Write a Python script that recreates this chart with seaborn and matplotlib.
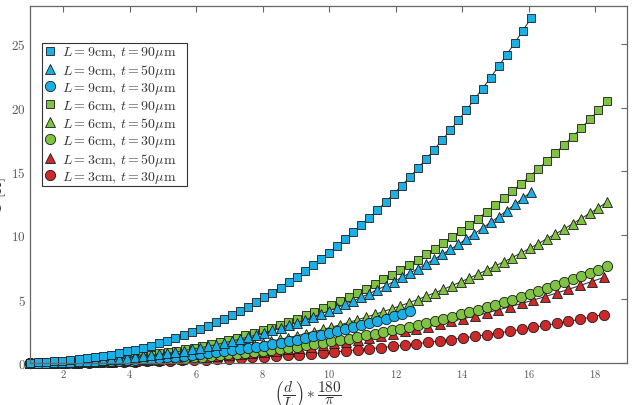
import matplotlib
matplotlib.use("Agg")
from matplotlib import pyplot as plt
from matplotlib.lines import Line2D
import seaborn as sns

# === Data ===
# x grids for each length L
x9 = [1.000, 1.243, 1.486, 1.729, 1.972, 2.215, 2.458, 2.701, 2.944, 3.187,
      3.430, 3.673, 3.916, 4.159, 4.402, 4.645, 4.888, 5.131, 5.374, 5.617,
      5.860, 6.103, 6.346, 6.589, 6.832, 7.075, 7.318, 7.561, 7.804, 8.047,
      8.290, 8.533, 8.776, 9.019, 9.262, 9.505, 9.748, 9.991, 10.234, 10.477,
      10.720, 10.963, 11.206, 11.449, 11.692, 11.935, 12.178, 12.421, 12.664, 12.907,
      13.150, 13.393, 13.636, 13.879, 14.122, 14.365, 14.608, 14.851, 15.094, 15.337,
      15.580, 15.823, 16.066]
x6 = [1.000, 1.259, 1.518, 1.777, 2.036, 2.295, 2.554, 2.813, 3.072, 3.331,
      3.590, 3.849, 4.108, 4.367, 4.626, 4.885, 5.144, 5.403, 5.662, 5.921,
      6.180, 6.439, 6.698, 6.957, 7.216, 7.475, 7.734, 7.993, 8.252, 8.511,
      8.770, 9.029, 9.288, 9.547, 9.806, 10.065, 10.324, 10.583, 10.842, 11.101,
      11.360, 11.619, 11.878, 12.137, 12.396, 12.655, 12.914, 13.173, 13.432, 13.691,
      13.950, 14.209, 14.468, 14.727, 14.986, 15.245, 15.504, 15.763, 16.022, 16.281,
      16.540, 16.799, 17.058, 17.317, 17.576, 17.835, 18.094, 18.353]
x3 = [1.000, 1.352, 1.704, 2.056, 2.408, 2.760, 3.112, 3.464, 3.816, 4.168,
      4.520, 4.872, 5.224, 5.576, 5.928, 6.280, 6.632, 6.984, 7.336, 7.688,
      8.040, 8.392, 8.744, 9.096, 9.448, 9.800, 10.152, 10.504, 10.856, 11.208,
      11.560, 11.912, 12.264, 12.616, 12.968, 13.320, 13.672, 14.024, 14.376, 14.728,
      15.080, 15.432, 15.784, 16.136, 16.488, 16.840, 17.192, 17.544, 17.896, 18.248]

# L = 9 cm
sq9 = [0.03, 0.06, 0.09, 0.13, 0.18, 0.23, 0.30, 0.37, 0.46, 0.56,
       0.66, 0.78, 0.91, 1.05, 1.21, 1.37, 1.55, 1.74, 1.95, 2.17,
       2.40, 2.65, 2.91, 3.18, 3.47, 3.77, 4.09, 4.42, 4.77, 5.14,
       5.52, 5.91, 6.33, 6.75, 7.20, 7.66, 8.14, 8.63, 9.15, 9.68,
       10.23, 10.79, 11.37, 11.97, 12.59, 13.23, 13.89, 14.56, 15.25, 15.96,
       16.70, 17.45, 18.22, 19.00, 19.81, 20.64, 21.49, 22.35, 23.24, 24.15,
       25.08, 26.03, 27.00]
tri9 = [0.01, 0.02, 0.03, 0.05, 0.07, 0.09, 0.12, 0.16, 0.19, 0.23,
        0.28, 0.33, 0.39, 0.46, 0.53, 0.60, 0.68, 0.77, 0.87, 0.97,
        1.08, 1.19, 1.31, 1.44, 1.58, 1.72, 1.88, 2.04, 2.20, 2.38,
        2.56, 2.75, 2.96, 3.16, 3.38, 3.61, 3.84, 4.09, 4.34, 4.60,
        4.87, 5.15, 5.44, 5.74, 6.05, 6.37, 6.70, 7.04, 7.39, 7.75,
        8.12, 8.50, 8.89, 9.29, 9.71, 10.13, 10.56, 11.01, 11.46, 11.93,
        12.41, 12.90, 13.40]
cir9 = [0.01, 0.01, 0.02, 0.03, 0.04, 0.05, 0.07, 0.09, 0.11, 0.14,
        0.16, 0.19, 0.23, 0.26, 0.30, 0.35, 0.39, 0.44, 0.50, 0.56,
        0.62, 0.69, 0.76, 0.83, 0.91, 0.99, 1.08, 1.17, 1.27, 1.37,
        1.47, 1.58, 1.70, 1.82, 1.95, 2.08, 2.21, 2.35, 2.50, 2.65,
        2.80, 2.96, 3.13, 3.30, 3.48, 3.67, 3.86, 4.05]

# L = 6 cm
sq6 = [0.01, 0.03, 0.04, 0.06, 0.08, 0.11, 0.15, 0.19, 0.23, 0.29,
       0.35, 0.41, 0.49, 0.57, 0.65, 0.75, 0.85, 0.96, 1.08, 1.21,
       1.35, 1.49, 1.65, 1.81, 1.99, 2.17, 2.36, 2.57, 2.78, 3.00,
       3.24, 3.48, 3.73, 4.00, 4.28, 4.57, 4.87, 5.18, 5.50, 5.83,
       6.18, 6.54, 6.91, 7.29, 7.69, 8.09, 8.51, 8.95, 9.39, 9.85,
       10.33, 10.81, 11.31, 11.82, 12.35, 12.89, 13.45, 14.01, 14.60, 15.19,
       15.81, 16.43, 17.07, 17.73, 18.40, 19.08, 19.78, 20.50]
tri6 = [0.01, 0.02, 0.02, 0.04, 0.05, 0.07, 0.09, 0.12, 0.14, 0.18,
        0.21, 0.25, 0.30, 0.35, 0.40, 0.46, 0.52, 0.59, 0.67, 0.74,
        0.83, 0.92, 1.01, 1.11, 1.22, 1.33, 1.45, 1.58, 1.71, 1.85,
        1.99, 2.14, 2.30, 2.46, 2.63, 2.81, 2.99, 3.18, 3.38, 3.59,
        3.80, 4.02, 4.25, 4.48, 4.72, 4.97, 5.23, 5.50, 5.77, 6.06,
        6.35, 6.65, 6.95, 7.27, 7.59, 7.92, 8.26, 8.61, 8.97, 9.34,
        9.72, 10.10, 10.49, 10.90, 11.31, 11.73, 12.16, 12.60]
cir6 = [0.01, 0.01, 0.01, 0.02, 0.03, 0.04, 0.05, 0.07, 0.09, 0.11,
        0.13, 0.15, 0.18, 0.21, 0.24, 0.28, 0.32, 0.36, 0.40, 0.45,
        0.50, 0.55, 0.61, 0.67, 0.73, 0.80, 0.87, 0.95, 1.03, 1.11,
        1.20, 1.29, 1.38, 1.48, 1.58, 1.69, 1.80, 1.91, 2.03, 2.16,
        2.28, 2.42, 2.55, 2.70, 2.84, 2.99, 3.15, 3.31, 3.47, 3.64,
        3.82, 4.00, 4.18, 4.37, 4.57, 4.77, 4.97, 5.18, 5.40, 5.62,
        5.84, 6.08, 6.31, 6.56, 6.80, 7.06, 7.32, 7.58]

# L = 3 cm
tri3 = [0.00, 0.01, 0.02, 0.03, 0.04, 0.06, 0.08, 0.11, 0.13, 0.17,
        0.20, 0.25, 0.29, 0.35, 0.40, 0.47, 0.53, 0.61, 0.69, 0.77,
        0.86, 0.96, 1.06, 1.18, 1.29, 1.42, 1.55, 1.68, 1.83, 1.98,
        2.14, 2.31, 2.48, 2.66, 2.85, 3.05, 3.26, 3.47, 3.69, 3.92,
        4.16, 4.41, 4.66, 4.93, 5.20, 5.48, 5.77, 6.07, 6.38, 6.70]
cir3 = [0.00, 0.01, 0.01, 0.02, 0.02, 0.03, 0.05, 0.06, 0.08, 0.09,
        0.12, 0.14, 0.17, 0.20, 0.23, 0.26, 0.30, 0.34, 0.39, 0.44,
        0.49, 0.54, 0.60, 0.66, 0.73, 0.80, 0.87, 0.95, 1.03, 1.12,
        1.21, 1.30, 1.40, 1.51, 1.61, 1.73, 1.84, 1.96, 2.09, 2.22,
        2.35, 2.49, 2.64, 2.79, 2.94, 3.10, 3.26, 3.43, 3.61, 3.79]

x_ticks = [2, 4, 6, 8, 10, 12, 14, 16, 18]
y_ticks = [0, 5, 10, 15, 20, 25]

# === Style ===
sns.set_style("white")
plt.rcParams["font.family"] = ["cmr10", "DejaVu Sans"]
plt.rcParams["mathtext.fontset"] = "cm"
plt.rcParams["axes.formatter.use_mathtext"] = True

BLUE = "#1ab0e6"
GREEN = "#80c242"
RED = "#cc2a2a"
SIZES = {"s": 5.6, "^": 7.2, "o": 7.4}

# legend order (top to bottom)
series = [
    (x9, sq9, "s", BLUE, r"$L = 9\mathrm{cm},\, t = 90\mu\mathrm{m}$"),
    (x9, tri9, "^", BLUE, r"$L = 9\mathrm{cm},\, t = 50\mu\mathrm{m}$"),
    (x9[:len(cir9)], cir9, "o", BLUE, r"$L = 9\mathrm{cm},\, t = 30\mu\mathrm{m}$"),
    (x6, sq6, "s", GREEN, r"$L = 6\mathrm{cm},\, t = 90\mu\mathrm{m}$"),
    (x6, tri6, "^", GREEN, r"$L = 6\mathrm{cm},\, t = 50\mu\mathrm{m}$"),
    (x6, cir6, "o", GREEN, r"$L = 6\mathrm{cm},\, t = 30\mu\mathrm{m}$"),
    (x3, tri3, "^", RED, r"$L = 3\mathrm{cm},\, t = 50\mu\mathrm{m}$"),
    (x3, cir3, "o", RED, r"$L = 3\mathrm{cm},\, t = 30\mu\mathrm{m}$"),
]

fig, ax = plt.subplots(figsize=(6.32, 4.06), dpi=100)
fig.subplots_adjust(left=0.0475, right=0.992, bottom=0.1034, top=0.9828)

# draw bottom series first so the blue ones sit on top
for xs, ys, mk, col, lab in reversed(series):
    sns.lineplot(x=xs, y=ys, ax=ax, color="#3a3a3a", lw=0.8,
                 marker=mk, markersize=SIZES[mk], markerfacecolor=col,
                 markeredgecolor="#1a1a1a", markeredgewidth=0.6,
                 estimator=None, sort=False, clip_on=False)

handles = [Line2D([], [], ls="none", marker=mk, markersize=SIZES[mk],
                  markerfacecolor=col, markeredgecolor="#1a1a1a",
                  markeredgewidth=0.6, label=lab)
           for _, _, mk, col, lab in series]
# expand mode so the box gets the extra room on the right like the original
leg = ax.legend(handles=handles, loc="upper left", mode="expand",
                bbox_to_anchor=(0.0196, 0.5, 0.243, 0.3955), borderaxespad=0,
                fontsize=10, labelspacing=0.1, handlelength=1.0,
                handletextpad=0.4, borderpad=0.08, fancybox=False,
                framealpha=1, edgecolor="#333333")
leg.get_frame().set_linewidth(0.8)
for t in leg.get_texts():
    t.set_color("#333333")

ax.set_xlim(1.0, 18.95)
ax.set_ylim(0, 27.95)
ax.set_xticks(x_ticks)
ax.set_yticks(y_ticks)
ax.tick_params(direction="in", top=True, right=True, length=4,
               color="#666666", labelcolor="#555555", pad=3)
ax.tick_params(axis="x", labelsize=7.5)
ax.tick_params(axis="y", labelsize=9.5)
for sp in ax.spines.values():
    sp.set_color("#666666")
    sp.set_linewidth(0.9)

ax.set_xlabel(r"$\left(\dfrac{d}{L}\right) * \dfrac{180}{\pi}$", fontsize=11, color="#333333")
ax.xaxis.set_label_coords(0.466, -0.045)
ax.set_ylabel(r"$T$ [K]", fontsize=11, color="#333333")
ax.yaxis.set_label_coords(-0.037, 0.473)

plt.savefig("out.png", dpi=100)
